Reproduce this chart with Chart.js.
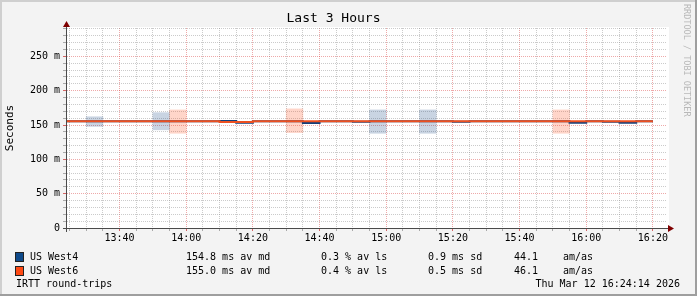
<!DOCTYPE html>
<html>
<head>
<meta charset="utf-8">
<script src="https://cdn.jsdelivr.net/npm/chart.js@4.4.1/dist/chart.umd.min.js"></script>
<style>
  html, body { margin: 0; padding: 0; background: #f3f3f3; }
  #wrap { position: relative; width: 697px; height: 296px; overflow: hidden;
          font-family: 'DejaVu Sans Mono', monospace; font-size: 10px; color: #000; }
  #wrap canvas { position: absolute; left: 0; top: 0; }
  .t { position: absolute; white-space: pre; line-height: 12px; }
  .sw { position: absolute; width: 7px; height: 8px; border: 1px solid #222; }
  .shade { position: absolute; }
  #mark { position: absolute; left: 682px; top: 4px; font-size: 8.5px; color: #b8b8b8;
          writing-mode: vertical-rl; white-space: pre; }
</style>
</head>
<body>
<div id="wrap">
  <canvas id="rttChart" width="697" height="296"></canvas>
  <div id="legend"></div>
  <div id="mark">RRDTOOL / TOBI OETIKER</div>
  <div class="shade" style="left:0;top:0;width:697px;height:2px;background:#cfcfcf"></div>
  <div class="shade" style="left:0;top:0;width:2px;height:296px;background:#cfcfcf"></div>
  <div class="shade" style="right:0;top:0;width:2px;height:296px;background:#9e9e9e"></div>
  <div class="shade" style="left:0;bottom:0;width:697px;height:2px;background:#9e9e9e"></div>
</div>
<script>
// 5 minute buckets (start time of each step)
const buckets = ['13:20', '13:25', '13:30', '13:35', '13:40', '13:45', '13:50', '13:55',
  '14:00', '14:05', '14:10', '14:15', '14:20', '14:25', '14:30', '14:35', '14:40', '14:45',
  '14:50', '14:55', '15:00', '15:05', '15:10', '15:15', '15:20', '15:25', '15:30', '15:35',
  '15:40', '15:45', '15:50', '15:55', '16:00', '16:05', '16:10', '16:15'];
const lastBucketEnd = '16:20';

// median round trip (ms)
const west4Median = [155.6, 155.6, 155.6, 155.6, 155.6, 155.6, 155.6, 155.6,
  155.6, 155.6, 155.8, 153.2, 155.6, 155.6, 155.6, 152.9, 155.6, 155.6,
  154.8, 155.6, 155.6, 155.6, 155.6, 155.6, 154.8, 155.6, 155.6, 155.6,
  155.6, 155.6, 155.6, 153.2, 155.6, 154.8, 153.2, 155.6];
const west6Median = [155.6, 155.6, 155.6, 155.6, 155.6, 155.6, 155.6, 155.6,
  155.6, 155.6, 154.4, 154.4, 155.6, 155.6, 155.6, 155.6, 155.6, 155.6,
  155.6, 155.6, 155.6, 155.6, 155.6, 155.6, 155.6, 155.6, 155.6, 155.6,
  155.6, 155.6, 155.6, 155.6, 155.6, 155.6, 155.6, 155.6];

// spread boxes (ms)
const west4BoxTimes = ['13:30', '13:50', '14:55', '15:10'];
const west4BoxLow = [148, 143, 138, 138];
const west4BoxHigh = [162, 168, 172, 172];
const west6BoxTimes = ['13:55', '14:30', '15:50'];
const west6BoxLow = [138, 139, 138];
const west6BoxHigh = [172, 173.5, 172];

// axes
const timeStart = '13:24:14';
const timeEnd = '16:24:14';
const xTickLabels = ['13:40', '14:00', '14:20', '14:40', '15:00', '15:20', '15:40', '16:00', '16:20'];
const yTickLabels = [0, 50, 100, 150, 200, 250];
const yMax = 291.3;

// legend
const seriesNames = ['US West4', 'US West6'];
const seriesColors = ['#0f4a8a', '#ff4a14'];
const avgMedian = ['154.8', '155.0'];
const avgLoss = ['0.3', '0.4'];
const stdDev = ['0.9', '0.5'];
const amas = ['44.1', '46.1'];
const footerLeft = 'IRTT round-trips';
const footerRight = 'Thu Mar 12 16:24:14 2026';

const toMin = s => {
  const [h, m, sec = 0] = s.split(':').map(Number);
  return h * 60 + m + sec / 60;
};
const fmt = v => {
  const h = Math.floor(v / 60), m = Math.round(v % 60);
  return h + ':' + String(m).padStart(2, '0');
};

function stepPoints(values) {
  const pts = buckets.map((b, i) => ({ x: toMin(b), y: values[i] }));
  pts.push({ x: toMin(lastBucketEnd), y: values[values.length - 1] });
  return pts;
}
function boxes(times, lo, hi) {
  return times.map((t, i) => ({ x: toMin(t) + 2.5, y: [lo[i], hi[i]] }));
}

const xMajor = xTickLabels.map(toMin);
const isXMajor = v => xMajor.some(m => Math.abs(m - v) < 0.01);
const xMinor = [];
for (let t = toMin('13:25'); t <= toMin('16:20'); t += 5) xMinor.push(t);
const yMinor = [];
for (let v = 0; v <= 290; v += 10) yMinor.push(v);

const gridMinor = 'rgba(140,140,140,0.45)';
const gridMajor = 'rgba(215,50,50,0.42)';
const tickMinor = 'rgba(120,120,120,0.6)';
const tickMajor = 'rgba(200,40,40,0.7)';

const plotBackground = {
  id: 'plotBackground',
  beforeDraw(chart) {
    const { ctx, chartArea: a } = chart;
    ctx.save();
    ctx.fillStyle = '#ffffff';
    ctx.fillRect(a.left, a.top - 1, a.right - a.left + 2, a.bottom - a.top + 1);
    ctx.restore();
  }
};

const axisArrows = {
  id: 'axisArrows',
  afterDatasetsDraw(chart) {
    const { ctx, chartArea: a } = chart;
    ctx.save();
    ctx.strokeStyle = '#4a4a4a';
    ctx.lineWidth = 1;
    ctx.beginPath();
    ctx.moveTo(a.left - 4, a.bottom + 0.5);
    ctx.lineTo(a.right + 4, a.bottom + 0.5);
    ctx.moveTo(a.left - 0.5, a.bottom + 4);
    ctx.lineTo(a.left - 0.5, a.top - 4);
    ctx.stroke();
    ctx.fillStyle = '#7f0000';
    ctx.beginPath();
    ctx.moveTo(a.right + 1, a.bottom - 3);
    ctx.lineTo(a.right + 7, a.bottom + 0.5);
    ctx.lineTo(a.right + 1, a.bottom + 4);
    ctx.closePath();
    ctx.fill();
    ctx.beginPath();
    ctx.moveTo(a.left - 4, a.top - 1);
    ctx.lineTo(a.left - 0.5, a.top - 7);
    ctx.lineTo(a.left + 3, a.top - 1);
    ctx.closePath();
    ctx.fill();
    ctx.restore();
  }
};

const ctx = document.getElementById('rttChart').getContext('2d');
new Chart(ctx, {
  type: 'bar',
  data: {
    datasets: [
      {
        type: 'line',
        label: seriesNames[1],
        data: stepPoints(west6Median),
        borderColor: '#ee5020',
        borderWidth: 2,
        stepped: true,
        pointRadius: 0,
        order: 0
      },
      {
        type: 'line',
        label: seriesNames[0],
        data: stepPoints(west4Median),
        borderColor: '#133f7a',
        borderWidth: 2,
        stepped: true,
        pointRadius: 0,
        order: 1
      },
      {
        type: 'bar',
        label: seriesNames[1] + ' spread',
        data: boxes(west6BoxTimes, west6BoxLow, west6BoxHigh),
        backgroundColor: 'rgba(255,80,30,0.24)',
        borderWidth: 0,
        grouped: false,
        barPercentage: 1,
        categoryPercentage: 1,
        order: 2
      },
      {
        type: 'bar',
        label: seriesNames[0] + ' spread',
        data: boxes(west4BoxTimes, west4BoxLow, west4BoxHigh),
        backgroundColor: 'rgba(20,70,130,0.233)',
        borderWidth: 0,
        grouped: false,
        barPercentage: 1,
        categoryPercentage: 1,
        order: 3
      }
    ]
  },
  options: {
    responsive: false,
    animation: false,
    layout: { padding: { left: 0, right: 30, top: 0, bottom: 0 } },
    plugins: {
      legend: { display: false },
      tooltip: { enabled: false },
      title: {
        display: true,
        text: 'Last 3 Hours',
        color: '#000',
        font: { family: 'DejaVu Sans Mono', size: 13, weight: 'normal' },
        padding: { top: 11, bottom: 1.4 }
      }
    },
    scales: {
      x: {
        type: 'linear',
        offset: false,
        min: toMin(timeStart),
        max: toMin(timeEnd),
        afterBuildTicks: s => { s.ticks = xMinor.map(v => ({ value: v })); },
        afterFit: s => { s.height = 68; },
        ticks: {
          autoSkip: false,
          maxRotation: 0,
          minRotation: 0,
          padding: 1,
          color: '#000',
          font: { family: 'DejaVu Sans Mono', size: 10 },
          callback: v => isXMajor(v) ? fmt(v) : ''
        },
        grid: {
          offset: false,
          color: c => (c.tick && isXMajor(c.tick.value)) ? gridMajor : gridMinor,
          tickColor: c => (c.tick && isXMajor(c.tick.value)) ? tickMajor : tickMinor,
          tickLength: 3,
          tickBorderDash: []
        },
        border: { display: false, color: '#4a4a4a', dash: [1, 1] }
      },
      y: {
        min: 0,
        max: yMax,
        afterBuildTicks: s => { s.ticks = yMinor.map(v => ({ value: v })); },
        afterFit: s => { s.width = 67; },
        ticks: {
          autoSkip: false,
          padding: 3,
          color: '#000',
          font: { family: 'DejaVu Sans Mono', size: 10 },
          callback: v => yTickLabels.includes(v) ? (v === 0 ? '0' : v + ' m') : ''
        },
        grid: {
          color: c => (c.tick && yTickLabels.includes(c.tick.value)) ? gridMajor : gridMinor,
          tickColor: c => (c.tick && yTickLabels.includes(c.tick.value)) ? tickMajor : tickMinor,
          tickLength: 4,
          tickBorderDash: []
        },
        border: { display: false, color: '#4a4a4a', dash: [1, 1] },
        title: {
          display: true,
          text: 'Seconds',
          color: '#000',
          font: { family: 'DejaVu Sans Mono', size: 11 }
        }
      }
    }
  },
  plugins: [plotBackground, axisArrows]
});

// legend rows, drawn as text in columns
const legend = document.getElementById('legend');
const cols = [30, 186, 321, 428, 514, 563];
function addText(left, top, text) {
  const d = document.createElement('div');
  d.className = 't';
  d.style.left = left + 'px';
  d.style.top = top + 'px';
  d.textContent = text;
  legend.appendChild(d);
}
seriesNames.forEach((name, i) => {
  const top = 251 + i * 14;
  const sw = document.createElement('div');
  sw.className = 'sw';
  sw.style.left = '15px';
  sw.style.top = (top + 1) + 'px';
  sw.style.background = seriesColors[i];
  legend.appendChild(sw);
  addText(cols[0], top, name);
  addText(cols[1], top, avgMedian[i] + ' ms av md');
  addText(cols[2], top, avgLoss[i] + ' % av ls');
  addText(cols[3], top, stdDev[i] + ' ms sd');
  addText(cols[4], top, amas[i]);
  addText(cols[5], top, 'am/as');
});
addText(16, 278, footerLeft);
const fr = document.createElement('div');
fr.className = 't';
fr.style.right = '17px';
fr.style.top = '278px';
fr.textContent = footerRight;
legend.appendChild(fr);
</script>
</body>
</html>
